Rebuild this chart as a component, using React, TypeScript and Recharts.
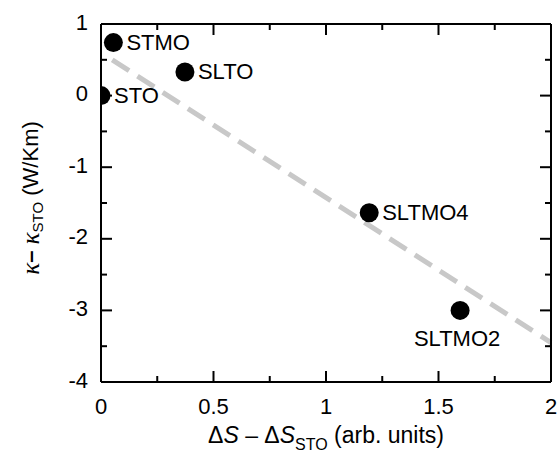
import React from "react";
import {
  ScatterChart,
  Scatter,
  XAxis,
  YAxis,
  ReferenceLine,
  Label,
} from "recharts";

// Samples and their offsets from STO
const SAMPLES = ["STO", "STMO", "SLTO", "SLTMO4", "SLTMO2"];
const DELTA_S = [0, 0.055, 0.373, 1.192, 1.596];
const DELTA_KAPPA = [0, 0.74, 0.33, -1.635, -3.0];

// guide line (dashed fit) end points
const FIT_X = [0.05, 2];
const FIT_Y = [0.5, -3.45];

const X_TICKS = [0, 0.25, 0.5, 0.75, 1, 1.25, 1.5, 1.75, 2];
const Y_TICKS = [-4, -3.5, -3, -2.5, -2, -1.5, -1, -0.5, 0, 0.5, 1];

const LABEL_BELOW = ["SLTMO2"];

const FONT = "'Liberation Sans', Arial, Helvetica, sans-serif";
const GREEK = "'Liberation Serif', 'Times New Roman', serif";
const MAJOR = 11;
const MINOR = 6;

const points = SAMPLES.map((name, i) => ({
  name,
  x: DELTA_S[i],
  y: DELTA_KAPPA[i],
}));

const isMajor = (v: number, step: number) =>
  Math.abs(v / step - Math.round(v / step)) < 1e-6;

function BottomTick(props: any) {
  const { x, y, payload } = props;
  const major = isMajor(payload.value, 0.5);
  return (
    <g>
      <line x1={x} x2={x} y1={y} y2={y - (major ? MAJOR : MINOR)} stroke="#000" strokeWidth={2} />
      {major && (
        <text x={x} y={y + 32} textAnchor="middle" fontSize={22} fontFamily={FONT} fill="#000">
          {String(payload.value)}
        </text>
      )}
    </g>
  );
}

function TopTick(props: any) {
  const { x, y, payload } = props;
  const major = isMajor(payload.value, 0.5);
  return <line x1={x} x2={x} y1={y} y2={y + (major ? MAJOR : MINOR)} stroke="#000" strokeWidth={2} />;
}

function LeftTick(props: any) {
  const { x, y, payload } = props;
  const major = isMajor(payload.value, 1);
  return (
    <g>
      <line x1={x} x2={x + (major ? MAJOR : MINOR)} y1={y} y2={y} stroke="#000" strokeWidth={2} />
      {major && (
        <text
          x={x - 13}
          y={y - 2}
          textAnchor="end"
          dominantBaseline="central"
          fontSize={22}
          fontFamily={FONT}
          fill="#000"
        >
          {String(payload.value)}
        </text>
      )}
    </g>
  );
}

function RightTick(props: any) {
  const { x, y, payload } = props;
  const major = isMajor(payload.value, 1);
  return <line x1={x} x2={x - (major ? MAJOR : MINOR)} y1={y} y2={y} stroke="#000" strokeWidth={2} />;
}

function Dot(props: any) {
  const { cx, cy, payload } = props;
  const below = LABEL_BELOW.includes(payload.name);
  return (
    <g>
      <circle cx={cx} cy={cy} r={9.5} fill="#000" />
      <text
        x={below ? cx - 3 : cx + 13}
        y={below ? cy + 28 : cy}
        textAnchor={below ? "middle" : "start"}
        dominantBaseline="central"
        fontSize={22}
        fontFamily={FONT}
        fill="#000"
      >
        {payload.name}
      </text>
    </g>
  );
}

function XTitle(props: any) {
  const { viewBox } = props;
  const cx = viewBox.x + viewBox.width / 2;
  return (
    <text x={cx} y={viewBox.y + 61} textAnchor="middle" fontSize={23} fontFamily={FONT} fill="#000">
      <tspan>Δ</tspan>
      <tspan fontStyle="italic">S</tspan>
      <tspan> – Δ</tspan>
      <tspan fontStyle="italic">S</tspan>
      <tspan fontSize={16} dy={7}>STO</tspan>
      <tspan dy={-7}> (arb. units)</tspan>
    </text>
  );
}

function YTitle() {
  const x = 30;
  const y = 198;
  return (
    <text
      x={x}
      y={y}
      transform={`rotate(-90 ${x} ${y})`}
      textAnchor="middle"
      dominantBaseline="central"
      fontSize={22}
      fontFamily={FONT}
      fill="#000"
    >
      <tspan fontStyle="italic" fontFamily={GREEK} fontSize={25}>κ</tspan>
      <tspan fontWeight="bold">–</tspan>
      <tspan> </tspan>
      <tspan fontStyle="italic" fontFamily={GREEK} fontSize={25}>κ</tspan>
      <tspan fontSize={15} dy={7}>STO</tspan>
      <tspan dy={-7}> (W/Km)</tspan>
    </text>
  );
}

export default function App() {
  const axisLine = { stroke: "#000", strokeWidth: 2 };
  return (
    <div style={{ position: "absolute", left: 0, top: 0, width: 560, height: 460, background: "#fff" }}>
      <ScatterChart width={560} height={460} margin={{ top: 23, right: 8, bottom: 0, left: 0 }}>
        <XAxis
          xAxisId="b"
          type="number"
          dataKey="x"
          domain={[0, 2]}
          ticks={X_TICKS}
          interval={0}
          orientation="bottom"
          height={78}
          tickSize={0}
          tickMargin={0}
          tickLine={false}
          axisLine={axisLine}
          tick={<BottomTick />}
          allowDataOverflow
        >
          <Label content={<XTitle />} />
        </XAxis>
        <XAxis
          xAxisId="t"
          type="number"
          dataKey="x"
          domain={[0, 2]}
          ticks={X_TICKS}
          interval={0}
          orientation="top"
          height={1}
          tickSize={0}
          tickMargin={0}
          tickLine={false}
          axisLine={axisLine}
          tick={<TopTick />}
          allowDataOverflow
        />
        <YAxis
          yAxisId="l"
          type="number"
          dataKey="y"
          domain={[-4, 1]}
          ticks={Y_TICKS}
          interval={0}
          orientation="left"
          width={101}
          tickSize={0}
          tickMargin={0}
          tickLine={false}
          axisLine={axisLine}
          tick={<LeftTick />}
          allowDataOverflow
        />
        <YAxis
          yAxisId="r"
          type="number"
          dataKey="y"
          domain={[-4, 1]}
          ticks={Y_TICKS}
          interval={0}
          orientation="right"
          width={1}
          tickSize={0}
          tickMargin={0}
          tickLine={false}
          axisLine={axisLine}
          tick={<RightTick />}
          allowDataOverflow
        />
        <ReferenceLine
          xAxisId="b"
          yAxisId="l"
          segment={[
            { x: FIT_X[0], y: FIT_Y[0] },
            { x: FIT_X[1], y: FIT_Y[1] },
          ]}
          stroke="#c8c8c8"
          strokeWidth={5}
          strokeDasharray="20 10"
          ifOverflow="visible"
        />
        <Scatter
          xAxisId="b"
          yAxisId="l"
          data={points}
          shape={<Dot />}
          isAnimationActive={false}
        />
      </ScatterChart>
      <svg
        width={560}
        height={460}
        style={{ position: "absolute", left: 0, top: 0, pointerEvents: "none" }}
      >
        <YTitle />
      </svg>
    </div>
  );
}
